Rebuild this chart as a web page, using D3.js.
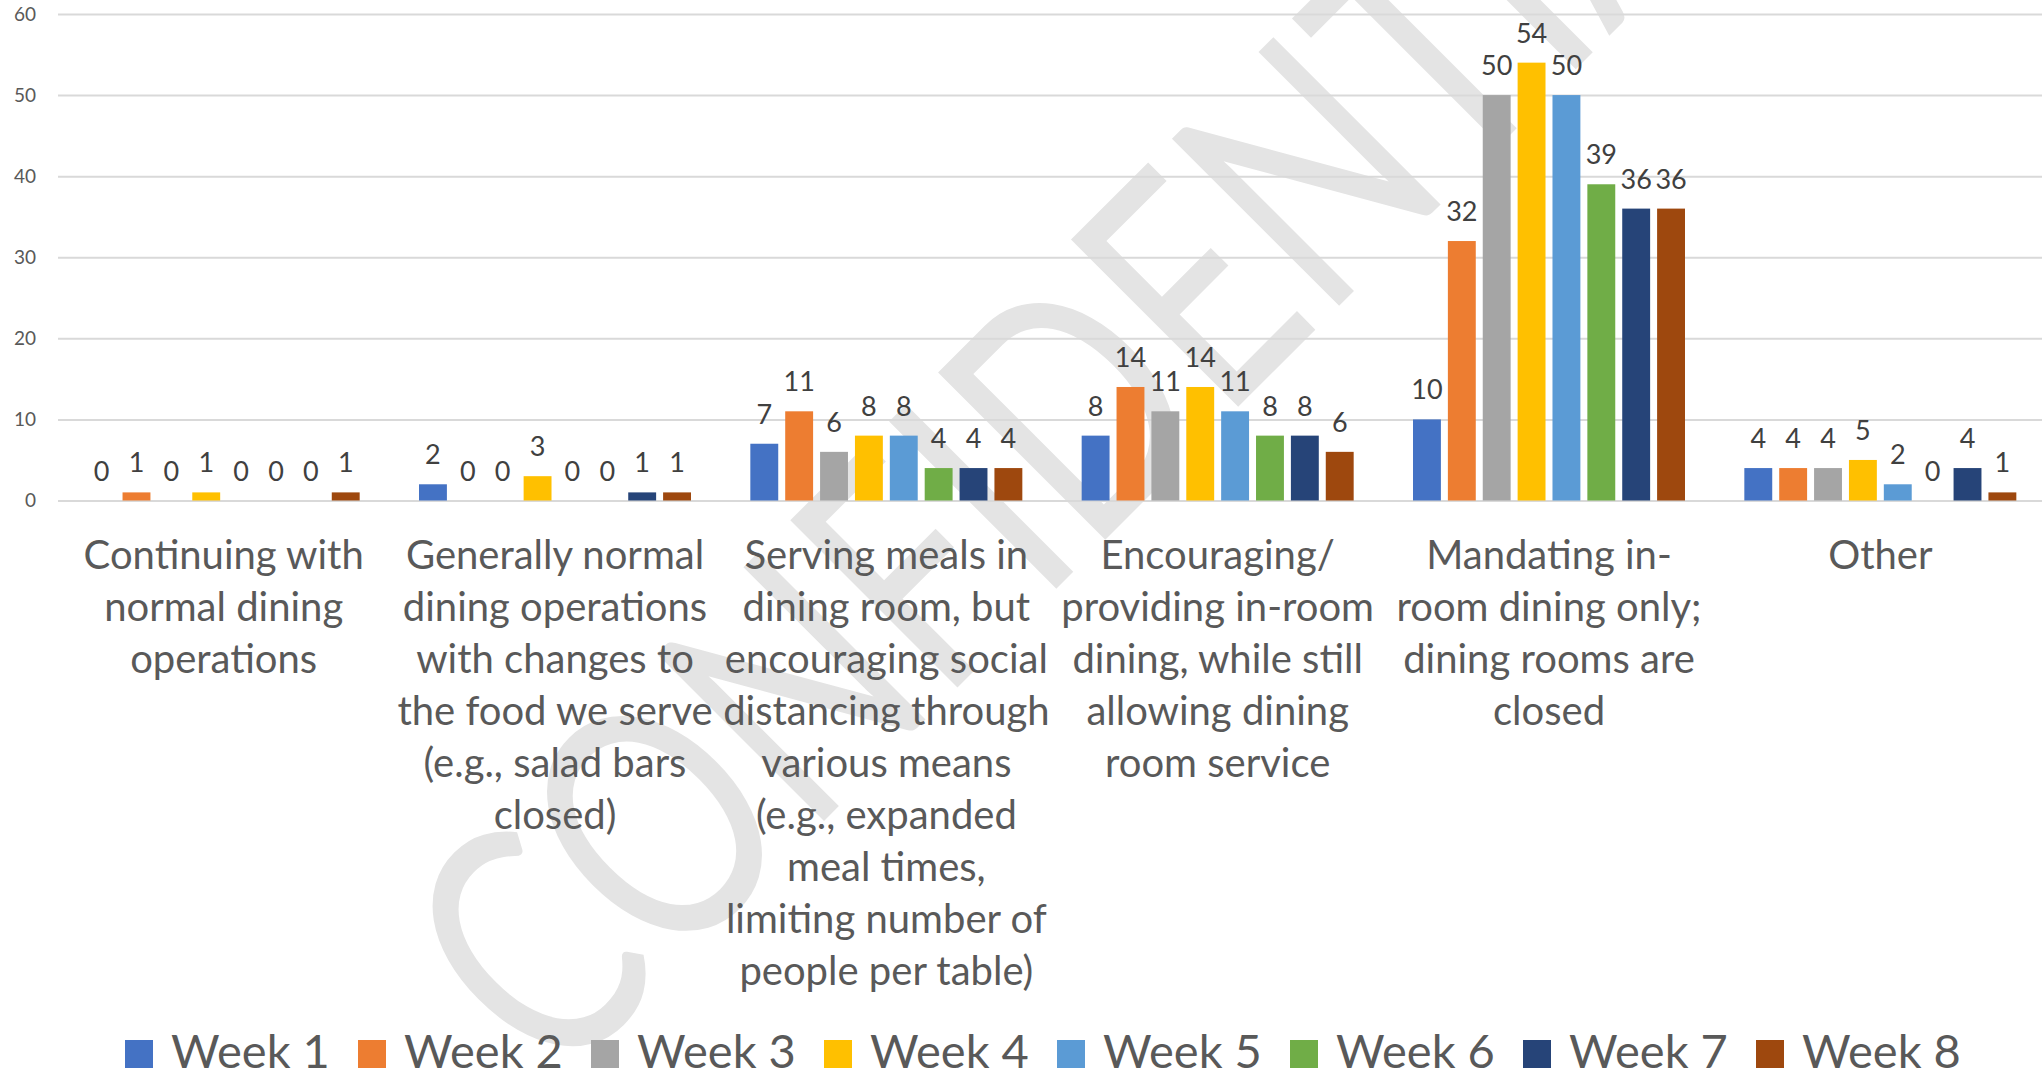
<!DOCTYPE html>
<html>
<head>
<meta charset="utf-8">
<script src="https://cdn.jsdelivr.net/npm/d3@7"></script>
<style>
  body { margin: 0; background: #fff; }
  svg { display: block; font-family: Lato, "Open Sans", sans-serif; }
</style>
</head>
<body>
<svg id="chart" width="2042" height="1081"></svg>
<script>
(function () {
    const width = 2042, height = 1081

    // data
    const categories = [
        "Continuing with normal dining operations",
        "Generally normal dining operations with changes to the food we serve (e.g., salad bars closed)",
        "Serving meals in dining room, but encouraging social distancing through various means (e.g., expanded meal times, limiting number of people per table)",
        "Encouraging/ providing in-room dining, while still allowing dining room service",
        "Mandating in-room dining only; dining rooms are closed",
        "Other"
    ]
    // how each label wraps in the original
    const categoryLines = [
        ["Continuing with", "normal dining", "operations"],
        ["Generally normal", "dining operations", "with changes to", "the food we serve", "(e.g., salad bars", "closed)"],
        ["Serving meals in", "dining room, but", "encouraging social", "distancing through", "various means", "(e.g., expanded", "meal times,", "limiting number of", "people per table)"],
        ["Encouraging/", "providing in-room", "dining, while still", "allowing dining", "room service"],
        ["Mandating in-", "room dining only;", "dining rooms are", "closed"],
        ["Other"]
    ]
    const weeks = ["Week 1", "Week 2", "Week 3", "Week 4", "Week 5", "Week 6", "Week 7", "Week 8"]
    const week1 = [0, 2, 7, 8, 10, 4]
    const week2 = [1, 0, 11, 14, 32, 4]
    const week3 = [0, 0, 6, 11, 50, 4]
    const week4 = [1, 3, 8, 14, 54, 5]
    const week5 = [0, 0, 8, 11, 50, 2]
    const week6 = [0, 0, 4, 8, 39, 0]
    const week7 = [0, 1, 4, 8, 36, 4]
    const week8 = [1, 1, 4, 6, 36, 1]
    const yTicks = [0, 10, 20, 30, 40, 50, 60]
    const colors = ["#4472C4", "#ED7D31", "#A5A5A5", "#FFC000", "#5B9BD5", "#70AD47", "#264478", "#9E480E"]

    const series = [week1, week2, week3, week4, week5, week6, week7, week8]
    const data = categories.map((c, i) => ({
        cat: c,
        values: weeks.map((w, j) => ({ week: w, value: series[j][i] }))
    }))

    const svg = d3.select("#chart")
    const textColor = "#595959"

    // watermark behind everything, rotated 45deg.
    // the D stem foot sits near (1105,540), second N's right leg foot near (1440,205)
    const wmSize = 330
    const wm = svg.append("text")
        .attr("font-size", wmSize)
        .attr("fill", "#e4e4e4")
        .text("CONFIDENTIAL")
    const dBox = wm.node().getExtentOfChar(5)
    const nBox = wm.node().getExtentOfChar(7)
    const dStem = dBox.x + 0.09 * wmSize
    const nLeg = nBox.x + nBox.width - 0.09 * wmSize
    const k = 475 / (nLeg - dStem)
    wm.attr("transform", `translate(1105,540) rotate(-45) scale(${k},1) translate(${-dStem},0)`)

    const x0 = d3.scaleBand()
        .domain(categories)
        .range([58, 2046])

    const groupW = 272
    const x1 = d3.scaleBand()
        .domain(weeks)
        .range([(x0.bandwidth() - groupW) / 2, (x0.bandwidth() + groupW) / 2])
        .paddingInner(0.2)

    const y = d3.scaleLinear()
        .domain([0, 60])
        .range([500.5, 14])

    // gridlines + y labels
    const yAxis = svg.append("g")
        .attr("transform", "translate(58,0)")
        .call(d3.axisLeft(y).tickValues(yTicks).tickSize(-(width - 58)).tickPadding(22))
    yAxis.select(".domain").remove()
    yAxis.selectAll(".tick line").attr("stroke", "#d9d9d9").attr("stroke-width", 2)
    yAxis.selectAll(".tick text")
        .attr("fill", textColor)
        .attr("font-size", 19)
        .attr("font-family", "Lato, sans-serif")

    // bars
    const groups = svg.append("g")
        .selectAll("g")
        .data(data)
        .enter()
        .append("g")
        .attr("transform", d => `translate(${x0(d.cat)},0)`)

    groups.selectAll("rect")
        .data(d => d.values)
        .enter()
        .append("rect")
        .attr("x", d => x1(d.week))
        .attr("y", d => y(d.value))
        .attr("width", x1.bandwidth())
        .attr("height", d => y(0) - y(d.value))
        .attr("fill", (d, i) => colors[i])

    groups.selectAll("text.val")
        .data(d => d.values)
        .enter()
        .append("text")
        .attr("class", "val")
        .attr("x", d => x1(d.week) + x1.bandwidth() / 2)
        .attr("y", d => y(d.value) - 20)
        .attr("text-anchor", "middle")
        .attr("font-size", 27)
        .attr("fill", "#404040")
        .text(d => d.value)

    // category labels
    const catLabels = svg.append("g")
        .selectAll("text")
        .data(data)
        .enter()
        .append("text")
        .attr("text-anchor", "middle")
        .attr("font-size", 40)
        .attr("fill", textColor)
        .attr("transform", d => `translate(${x0(d.cat) + x0.bandwidth() / 2},569)`)

    catLabels.selectAll("tspan")
        .data((d, i) => categoryLines[i])
        .enter()
        .append("tspan")
        .attr("x", 0)
        .attr("y", (d, i) => i * 52)
        .text(d => d)

    // legend
    const legend = svg.append("g")
        .selectAll("g")
        .data(weeks)
        .enter()
        .append("g")
        .attr("transform", (d, i) => `translate(${125 + i * 233},1040)`)

    legend.append("rect")
        .attr("width", 28)
        .attr("height", 28)
        .attr("fill", (d, i) => colors[i])

    legend.append("text")
        .attr("x", 46)
        .attr("y", 28)
        .attr("font-size", 47)
        .attr("fill", textColor)
        .text(d => d)
})();
</script>
</body>
</html>
